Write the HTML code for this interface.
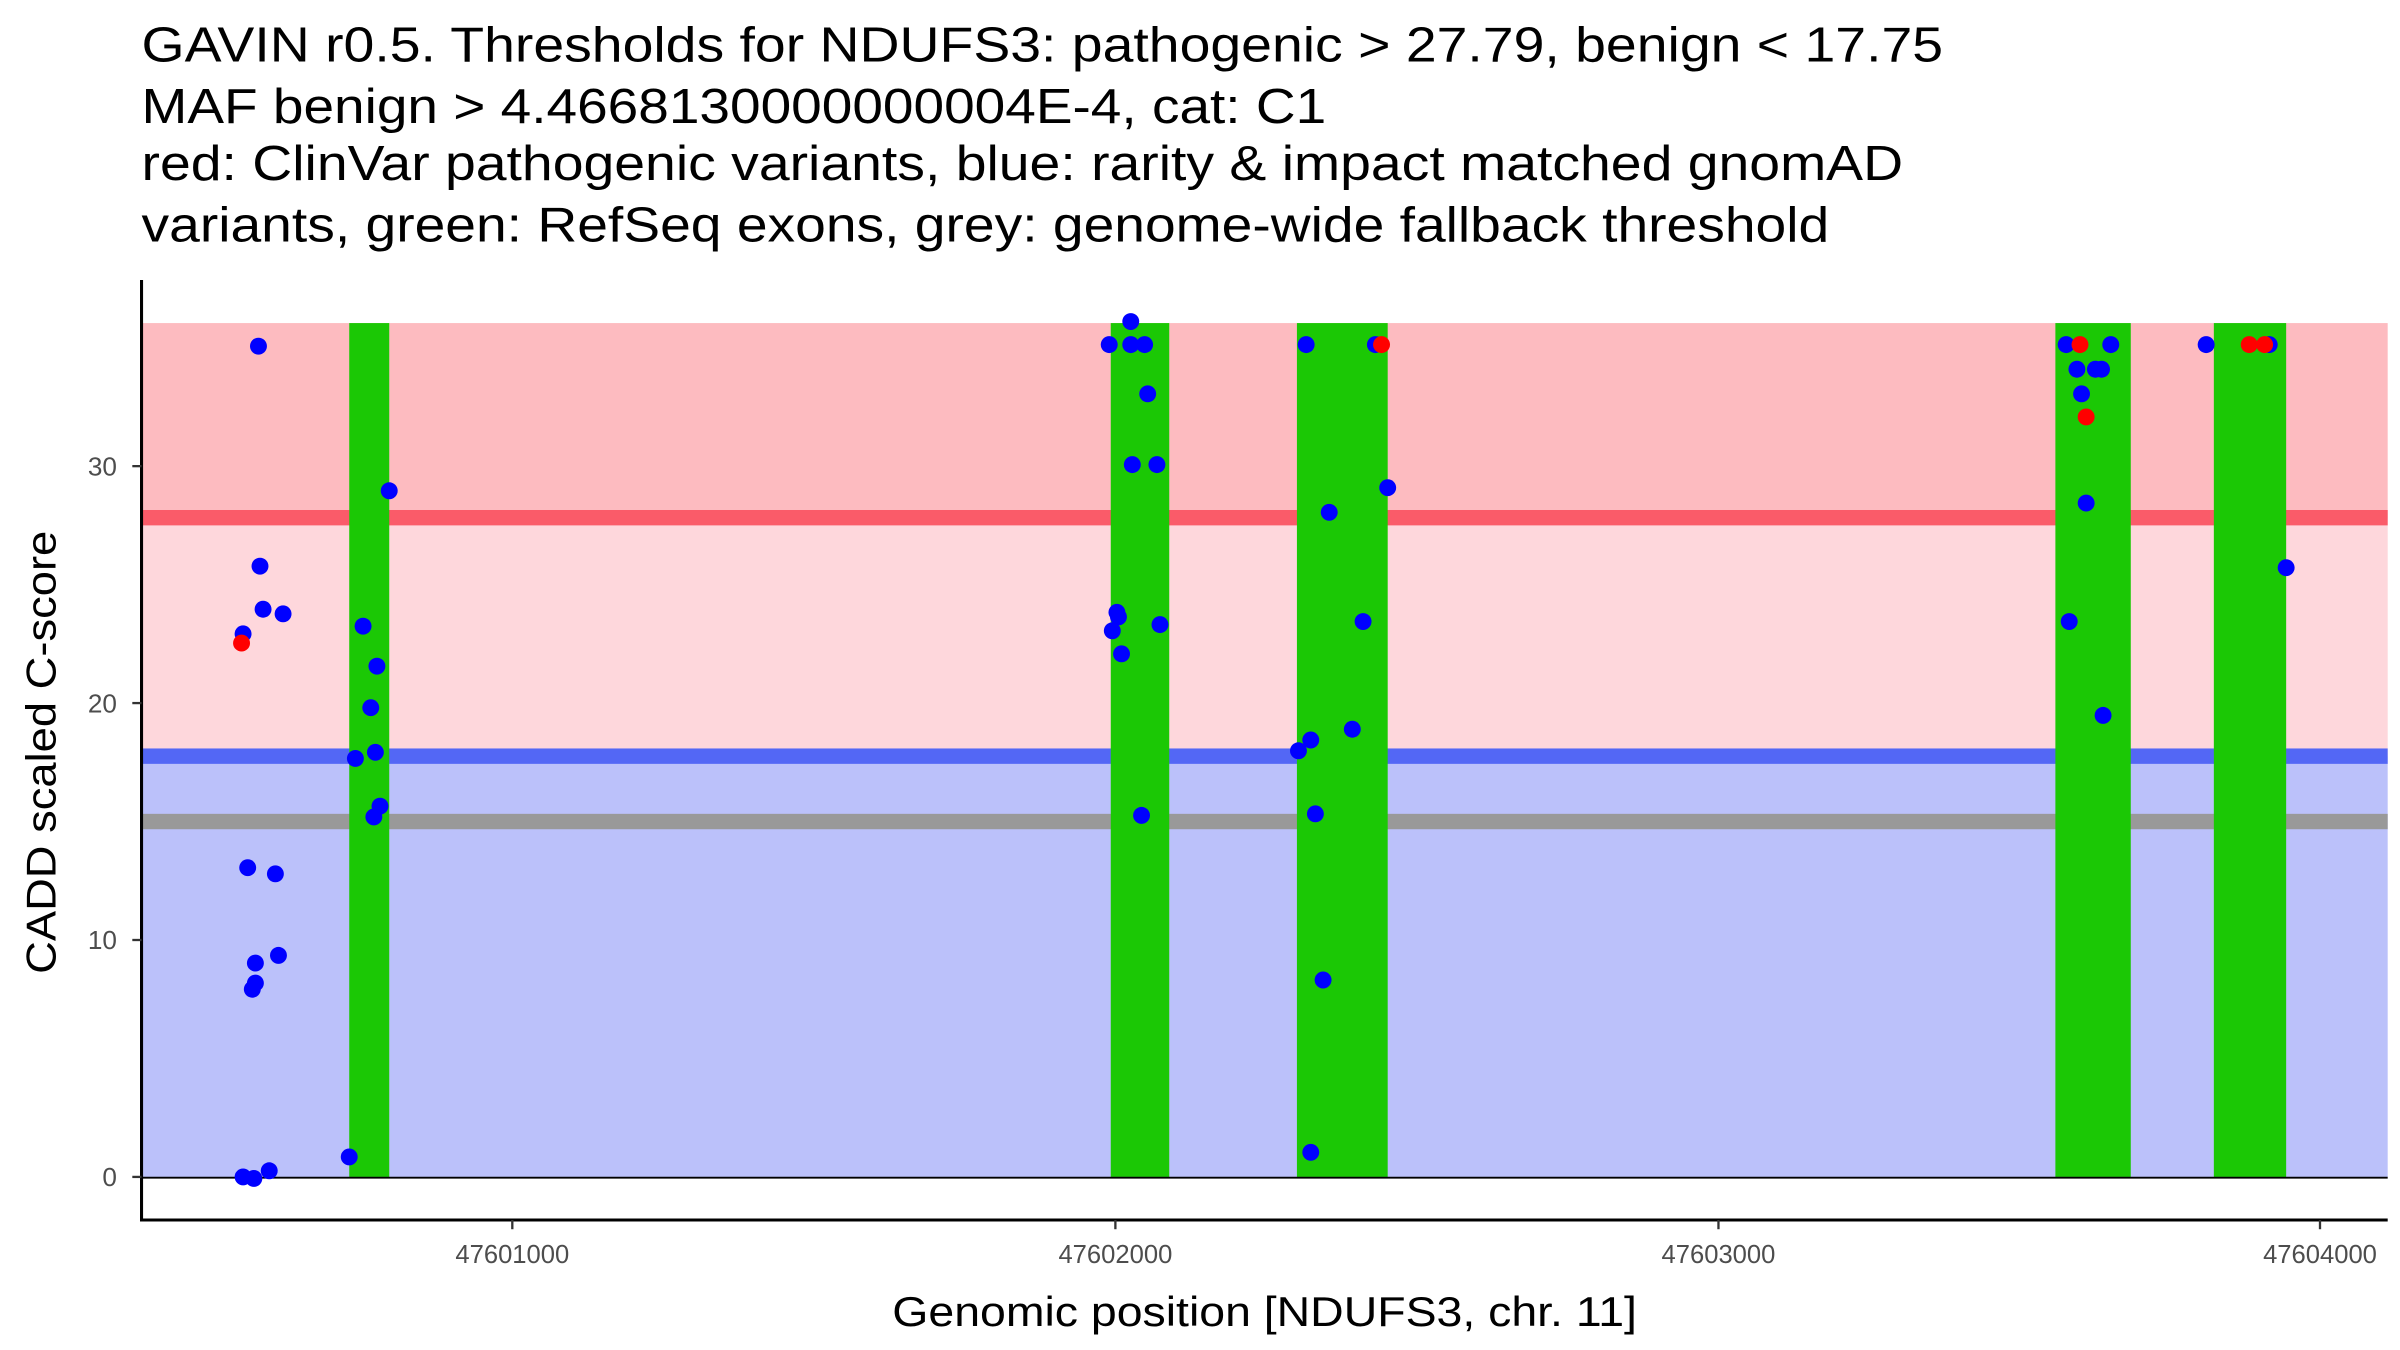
<!DOCTYPE html>
<html><head><meta charset="utf-8"><style>html,body{margin:0;padding:0;background:#fff}svg{display:block}</style></head>
<body>
<svg width="2400" height="1350" viewBox="0 0 1560 877.5" xmlns="http://www.w3.org/2000/svg" font-family="Liberation Sans, Arial, sans-serif">
<rect width="1560" height="877.5" fill="#fff"/>
<g fill="#000" font-size="32" lengthAdjust="spacingAndGlyphs">
<text x="92" y="40" textLength="1171" lengthAdjust="spacingAndGlyphs">GAVIN r0.5. Thresholds for NDUFS3: pathogenic &gt; 27.79, benign &lt; 17.75</text>
<text x="92" y="80" textLength="770" lengthAdjust="spacingAndGlyphs">MAF benign &gt; 4.4668130000000004E-4, cat: C1</text>
<text x="92" y="117" textLength="1145" lengthAdjust="spacingAndGlyphs">red: ClinVar pathogenic variants, blue: rarity &amp; impact matched gnomAD</text>
<text x="92" y="157" textLength="1097" lengthAdjust="spacingAndGlyphs">variants, green: RefSeq exons, grey: genome-wide fallback threshold</text>
</g>
<rect x="92" y="210" width="1460" height="127" fill="#fdbbc0"/>
<rect x="92" y="337" width="1460" height="154.6" fill="#fed7dc"/>
<rect x="92" y="491.6" width="1460" height="273.4" fill="#bbc1fa"/>
<rect x="92" y="331.5" width="1460" height="10" fill="#fa5b69"/>
<rect x="92" y="486.5" width="1460" height="10" fill="#5367f5"/>
<rect x="92" y="529" width="1460" height="10" fill="#999"/>
<g fill="#1bc805">
<rect x="227" y="210" width="26" height="555"/>
<rect x="722" y="210" width="38" height="555"/>
<rect x="843" y="210" width="59" height="555"/>
<rect x="1336" y="210" width="49" height="555"/>
<rect x="1439" y="210" width="47" height="555"/>
</g>
<line x1="92" y1="765.5" x2="1552" y2="765.5" stroke="#000" stroke-width="1.2"/>
<g fill="#0000ff">
<circle cx="168" cy="225" r="5.5"/><circle cx="158" cy="412" r="5.5"/><circle cx="169" cy="368" r="5.5"/><circle cx="171" cy="396" r="5.5"/><circle cx="184" cy="399" r="5.5"/><circle cx="161" cy="564" r="5.5"/><circle cx="179" cy="568" r="5.5"/><circle cx="166" cy="626" r="5.5"/><circle cx="166" cy="639" r="5.5"/><circle cx="164" cy="643" r="5.5"/><circle cx="181" cy="621" r="5.5"/><circle cx="158" cy="765" r="5.5"/><circle cx="165" cy="766" r="5.5"/><circle cx="175" cy="761" r="5.5"/><circle cx="227" cy="752" r="5.5"/><circle cx="236" cy="407" r="5.5"/><circle cx="245" cy="433" r="5.5"/><circle cx="241" cy="460" r="5.5"/><circle cx="231" cy="493" r="5.5"/><circle cx="244" cy="489" r="5.5"/><circle cx="243" cy="531" r="5.5"/><circle cx="247" cy="524" r="5.5"/><circle cx="253" cy="319" r="5.5"/>
<circle cx="721" cy="224" r="5.5"/><circle cx="735" cy="209" r="5.5"/><circle cx="735" cy="224" r="5.5"/><circle cx="744" cy="224" r="5.5"/><circle cx="746" cy="256" r="5.5"/><circle cx="736" cy="302" r="5.5"/><circle cx="752" cy="302" r="5.5"/><circle cx="726" cy="398" r="5.5"/><circle cx="727" cy="401" r="5.5"/><circle cx="723" cy="410" r="5.5"/><circle cx="754" cy="406" r="5.5"/><circle cx="729" cy="425" r="5.5"/><circle cx="742" cy="530" r="5.5"/>
<circle cx="849" cy="224" r="5.5"/><circle cx="894" cy="224" r="5.5"/><circle cx="864" cy="333" r="5.5"/><circle cx="902" cy="317" r="5.5"/><circle cx="886" cy="404" r="5.5"/><circle cx="879" cy="474" r="5.5"/><circle cx="852" cy="481" r="5.5"/><circle cx="844" cy="488" r="5.5"/><circle cx="855" cy="529" r="5.5"/><circle cx="860" cy="637" r="5.5"/><circle cx="852" cy="749" r="5.5"/>
<circle cx="1343" cy="224" r="5.5"/><circle cx="1372" cy="224" r="5.5"/><circle cx="1350" cy="240" r="5.5"/><circle cx="1362" cy="240" r="5.5"/><circle cx="1366" cy="240" r="5.5"/><circle cx="1353" cy="256" r="5.5"/><circle cx="1356" cy="327" r="5.5"/><circle cx="1345" cy="404" r="5.5"/><circle cx="1367" cy="465" r="5.5"/>
<circle cx="1434" cy="224" r="5.5"/><circle cx="1475" cy="224" r="5.5"/><circle cx="1486" cy="369" r="5.5"/>
</g>
<g fill="#ff0000">
<circle cx="157" cy="418" r="5.5"/><circle cx="898" cy="224" r="5.5"/><circle cx="1352" cy="224" r="5.5"/><circle cx="1356" cy="271" r="5.5"/><circle cx="1462" cy="224" r="5.5"/><circle cx="1472" cy="224" r="5.5"/>
</g>
<line x1="92" y1="182" x2="92" y2="794" stroke="#000" stroke-width="2"/>
<line x1="91" y1="793" x2="1552" y2="793" stroke="#000" stroke-width="2"/>
<g stroke="#333" stroke-width="1.5">
<line x1="86" y1="765" x2="92" y2="765"/><line x1="86" y1="611" x2="92" y2="611"/><line x1="86" y1="457" x2="92" y2="457"/><line x1="86" y1="303" x2="92" y2="303"/>
<line x1="333" y1="793" x2="333" y2="799"/><line x1="725" y1="793" x2="725" y2="799"/><line x1="1117" y1="793" x2="1117" y2="799"/><line x1="1508" y1="793" x2="1508" y2="799"/>
</g>
<g fill="#4d4d4d" font-size="17" text-anchor="end">
<text x="76" y="771">0</text><text x="76" y="617">10</text><text x="76" y="463">20</text><text x="76" y="309">30</text>
</g>
<g fill="#4d4d4d" font-size="17" text-anchor="middle">
<text x="333" y="821" textLength="74" lengthAdjust="spacingAndGlyphs">47601000</text><text x="725" y="821" textLength="74" lengthAdjust="spacingAndGlyphs">47602000</text><text x="1117" y="821" textLength="74" lengthAdjust="spacingAndGlyphs">47603000</text><text x="1508" y="821" textLength="74" lengthAdjust="spacingAndGlyphs">47604000</text>
</g>
<text x="822" y="862" font-size="27" text-anchor="middle" fill="#000" textLength="484" lengthAdjust="spacingAndGlyphs">Genomic position [NDUFS3, chr. 11]</text>
<text transform="translate(36,489) rotate(-90)" font-size="27" text-anchor="middle" fill="#000" textLength="288" lengthAdjust="spacingAndGlyphs">CADD scaled C-score</text>
</svg>
</body></html>
